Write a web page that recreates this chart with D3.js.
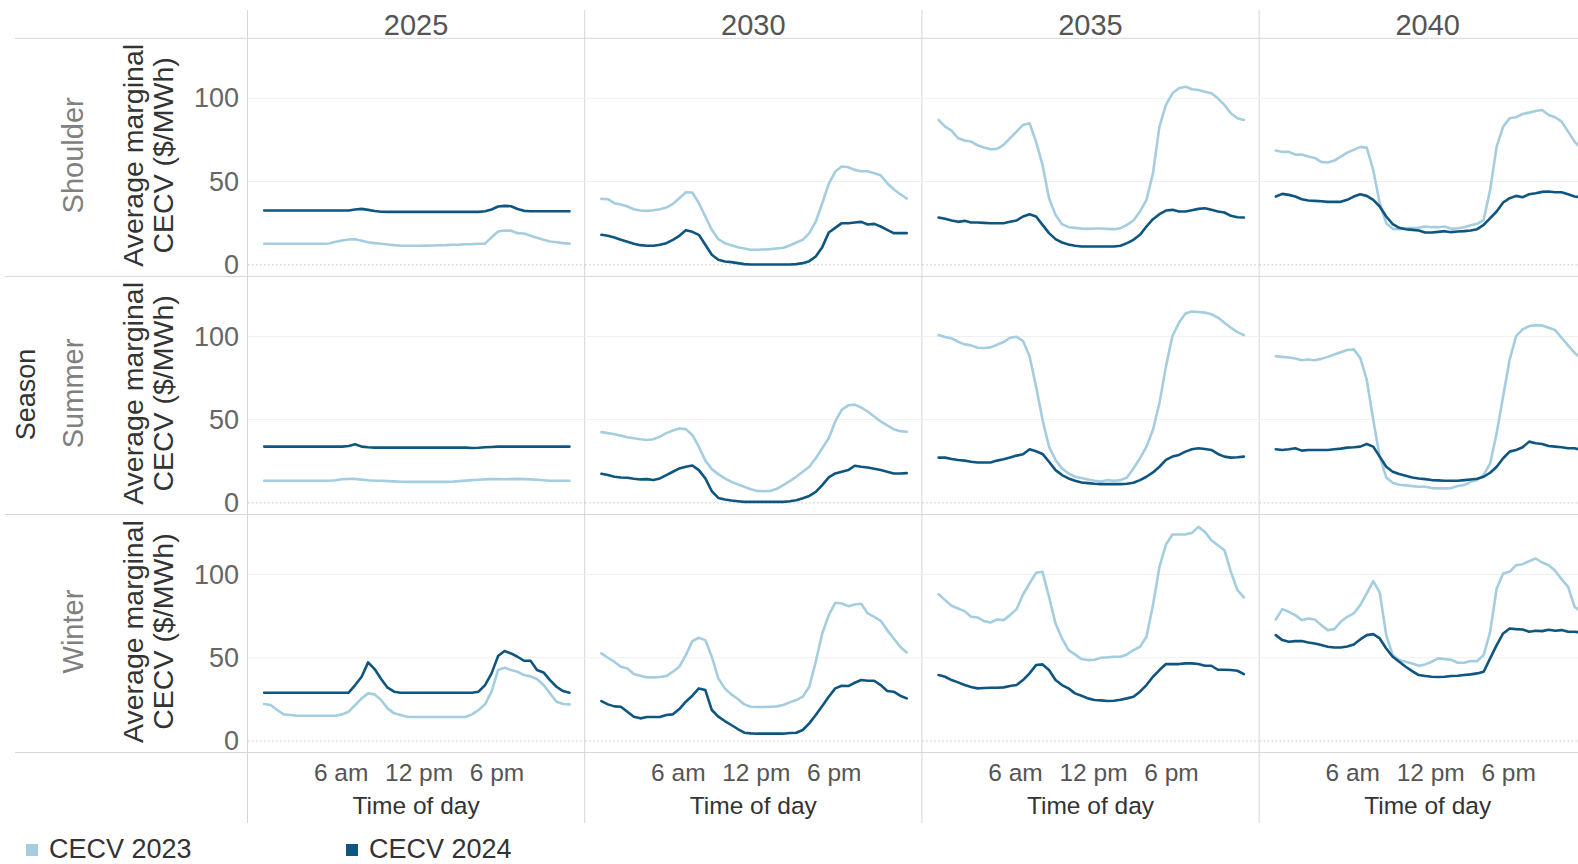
<!DOCTYPE html>
<html>
<head>
<meta charset="utf-8">
<script src="https://cdn.jsdelivr.net/npm/d3@7"></script>
<style>
  html, body { margin: 0; padding: 0; background: #ffffff; }
  svg { display: block; font-family: Arial, "Liberation Sans", sans-serif; }
</style>
</head>
<body>
<svg id="chart" width="1578" height="864"></svg>
<script>
// ---------------- DATA ----------------
const years = ["2025", "2030", "2035", "2040"];
const seasons = ["Shoulder", "Summer", "Winter"];
const seriesNames = ["CECV 2023", "CECV 2024"];
const yTicks = [0, 50, 100];
const xTicks = [6, 12, 18];
const xTickLabels = ["6 am", "12 pm", "6 pm"];
const hours = [0,0.5,1,1.5,2,2.5,3,3.5,4,4.5,5,5.5,6,6.5,7,7.5,8,8.5,9,9.5,10,10.5,11,11.5,
               12,12.5,13,13.5,14,14.5,15,15.5,16,16.5,17,17.5,18,18.5,19,19.5,20,20.5,21,21.5,22,22.5,23,23.5];

// Shoulder
const shoulder2025_cecv2023 = [12.6,12.6,12.6,12.6,12.6,12.6,12.6,12.6,12.6,12.6,12.8,13.8,14.6,15.2,15.4,14.5,13.5,13.0,12.6,12.2,11.8,11.5,11.4,11.4,
  11.4,11.5,11.6,11.7,11.8,12.0,12.1,12.3,12.4,12.6,12.7,16.5,20.0,20.6,20.5,19.0,18.8,17.5,16.2,15.0,14.0,13.5,13.0,12.7];
const shoulder2025_cecv2024 = [32.6,32.6,32.6,32.6,32.6,32.6,32.6,32.6,32.6,32.6,32.6,32.6,32.6,32.6,33.2,33.6,33.0,32.3,31.9,31.8,31.8,31.8,31.8,31.8,
  31.8,31.8,31.8,31.8,31.8,31.8,31.8,31.8,31.8,31.8,32.2,33.2,35.0,35.4,35.2,33.5,32.4,32.2,32.2,32.2,32.2,32.2,32.2,32.2];
const shoulder2030_cecv2023 = [39.6,39.4,37.0,36.2,35.0,33.4,32.6,32.4,32.8,33.4,34.4,36.6,40.0,43.6,43.4,37.0,29.0,21.0,15.4,13.0,11.8,10.6,9.8,9.0,
  9.0,9.2,9.4,9.8,10.2,11.6,13.4,15.0,19.0,26.0,37.0,48.6,56.0,59.0,58.6,57.0,56.2,56.2,55.0,53.8,49.0,45.4,42.4,39.8];
const shoulder2030_cecv2024 = [18.0,17.4,16.4,15.0,13.8,12.6,11.8,11.4,11.4,12.0,13.0,15.0,17.4,20.8,19.8,18.0,12.0,6.0,3.0,2.0,1.6,1.0,0.4,0.2,
  0.2,0.2,0.2,0.2,0.2,0.2,0.4,1.0,2.2,5.0,10.6,19.4,22.2,25.0,25.0,25.4,25.8,24.2,24.6,23.0,21.0,19.0,19.0,19.0];
const shoulder2035_cecv2023 = [87.0,83.0,80.6,76.0,74.6,74.0,71.8,70.4,69.4,69.6,72.0,76.0,80.0,84.0,85.0,74.0,60.0,40.0,30.0,24.4,22.6,22.2,21.8,21.6,
  21.8,21.8,21.6,21.4,22.0,24.0,26.6,32.0,39.0,55.0,83.0,96.0,103.0,106.0,107.0,105.4,105.0,104.0,103.0,100.0,96.0,91.0,88.0,87.0];
const shoulder2035_cecv2024 = [28.4,27.6,26.6,25.8,26.4,25.4,25.4,25.2,25.0,25.0,25.0,25.8,26.6,29.0,30.4,29.0,24.0,19.0,15.4,13.4,12.2,11.4,11.0,11.0,
  11.0,11.0,11.0,11.0,11.4,13.0,15.0,18.0,23.0,27.4,30.4,32.6,33.0,32.0,32.0,32.8,33.6,34.0,33.0,32.0,31.4,29.4,28.6,28.4];
const shoulder2040_cecv2023 = [68.6,67.8,67.8,66.2,66.2,65.0,64.2,61.8,61.4,62.6,65.0,67.4,69.0,70.8,70.4,57.0,37.0,25.0,21.6,21.4,22.0,22.0,22.2,23.0,
  22.6,22.6,23.0,21.6,22.0,22.6,23.8,24.6,27.0,45.0,71.0,83.0,88.0,88.6,90.6,91.4,92.4,93.0,90.0,88.6,86.0,80.0,74.0,70.0];
const shoulder2040_cecv2024 = [41.0,42.6,42.0,41.0,39.4,38.6,38.4,38.2,37.8,37.8,37.8,39.0,41.0,42.4,41.4,39.0,35.0,29.0,24.4,22.2,21.4,21.0,20.6,19.4,
  19.4,19.8,20.2,19.6,20.0,20.2,20.6,21.4,24.0,28.0,32.0,37.4,40.0,41.4,40.6,42.4,43.0,43.8,44.0,43.6,43.6,42.4,41.0,40.6];

// Summer
const summer2025_cecv2023 = [13.3,13.3,13.3,13.3,13.3,13.3,13.3,13.3,13.3,13.3,13.3,13.6,14.2,14.4,14.4,14.0,13.6,13.4,13.3,13.1,12.9,12.7,12.6,12.6,
  12.6,12.6,12.6,12.6,12.6,12.8,13.1,13.4,13.7,13.9,14.1,14.3,14.3,14.2,14.3,14.4,14.3,14.1,13.9,13.6,13.3,13.3,13.3,13.3];
const summer2025_cecv2024 = [33.8,33.8,33.8,33.8,33.8,33.8,33.8,33.8,33.8,33.8,33.8,33.8,33.8,34.2,35.2,33.8,33.4,33.2,33.2,33.2,33.2,33.2,33.2,33.2,
  33.2,33.2,33.2,33.2,33.2,33.2,33.2,33.2,33.0,33.1,33.4,33.6,33.8,33.8,33.8,33.8,33.8,33.8,33.8,33.8,33.8,33.8,33.8,33.8];
const summer2030_cecv2023 = [42.5,41.9,41.2,40.4,39.4,38.8,38.2,37.8,38.2,39.8,41.9,43.5,44.7,44.3,40.8,33.8,25.4,20.3,17.3,14.7,12.7,11.1,9.7,8.2,
  7.2,7.0,7.2,8.5,10.7,13.1,15.7,18.7,21.7,26.8,32.8,38.8,48.9,55.9,58.6,59.0,57.3,54.9,51.9,48.9,46.5,44.3,43.1,42.7];
const summer2030_cecv2024 = [17.5,16.7,15.7,15.3,15.1,14.5,14.1,14.3,13.7,14.7,16.7,18.7,20.7,21.7,22.5,19.7,14.7,7.0,3.0,2.0,1.4,1.0,0.6,0.6,
  0.6,0.6,0.6,0.6,0.6,1.0,1.6,2.8,4.2,6.6,10.7,15.3,17.7,18.7,19.7,22.3,21.7,21.3,20.5,19.7,18.7,17.7,17.7,17.9];
const summer2035_cecv2023 = [100.8,99.6,98.8,96.8,95.2,94.6,93.2,93.0,93.4,95.0,96.6,99.2,99.8,97.2,88.1,70.0,49.9,33.8,25.8,20.7,17.7,15.7,14.9,14.1,
  13.3,12.9,13.7,13.3,13.7,15.3,20.7,26.8,33.8,43.9,60.0,82.0,100.2,108.2,113.7,114.9,114.7,114.3,113.3,111.3,108.2,105.2,102.6,100.8];
const summer2035_cecv2024 = [27.2,27.2,26.4,25.8,25.4,24.7,24.3,24.3,24.3,25.4,26.2,27.2,28.4,29.2,32.2,31.0,29.4,24.7,19.7,16.7,14.7,13.3,12.3,11.9,
  11.5,11.3,11.3,11.3,11.3,11.5,12.1,13.7,15.7,18.3,21.7,25.8,27.8,28.8,30.8,32.2,32.8,32.4,31.8,29.4,27.8,27.2,27.4,27.8];
const summer2040_cecv2023 = [88.1,87.7,87.3,86.7,85.7,86.1,85.7,86.5,87.7,89.1,90.5,91.8,92.2,87.1,74.0,49.9,27.8,15.3,12.1,10.9,10.5,10.1,9.7,9.7,
  8.9,8.7,8.7,8.9,10.1,10.7,12.7,13.7,16.7,23.7,41.9,64.0,86.1,100.2,104.2,106.2,106.6,106.6,105.2,103.8,99.2,94.6,90.1,87.0];
const summer2040_cecv2024 = [32.2,31.8,32.2,32.8,31.4,31.8,31.8,31.8,31.8,32.2,32.6,33.2,33.4,33.8,35.4,33.8,27.8,21.7,18.7,17.3,16.3,15.3,14.7,14.3,
  13.7,13.5,13.3,13.3,13.3,13.7,14.1,14.5,15.7,18.1,21.7,26.8,30.8,31.8,33.4,36.8,35.8,35.4,34.2,33.8,33.4,32.8,32.8,31.8];

// Winter
const winter2025_cecv2023 = [22.2,21.6,18.6,16.0,15.6,15.2,15.2,15.2,15.2,15.2,15.2,15.2,16.0,17.6,21.6,25.6,28.6,28.0,24.6,19.6,16.6,15.6,14.6,14.4,
  14.4,14.4,14.4,14.4,14.4,14.4,14.4,14.4,16.0,18.6,22.0,29.6,42.6,44.0,42.6,41.6,39.6,38.8,37.2,33.6,28.6,23.6,22.2,22.0];
const winter2025_cecv2024 = [29.0,29.0,29.0,29.0,29.0,29.0,29.0,29.0,29.0,29.0,29.0,29.0,29.0,29.0,33.6,38.6,47.2,43.2,37.2,32.0,29.6,29.0,29.0,29.0,
  29.0,29.0,29.0,29.0,29.0,29.0,29.0,29.0,29.0,29.6,33.6,40.6,51.0,54.0,52.6,50.6,48.2,48.2,42.6,41.2,36.6,32.6,30.0,29.0];
const winter2030_cecv2023 = [52.6,50.0,47.6,44.6,43.6,40.2,39.2,38.2,38.2,38.4,39.0,41.6,44.6,51.6,60.0,62.0,60.6,50.6,37.6,31.6,28.0,25.2,22.0,20.6,
  20.4,20.4,20.6,20.8,21.6,23.2,24.6,26.6,32.6,47.6,64.6,75.6,83.0,82.6,81.0,82.0,82.4,76.6,74.6,72.2,66.6,61.6,56.6,53.2];
const winter2030_cecv2024 = [24.0,22.0,20.8,20.6,17.6,14.6,13.6,14.4,14.4,14.4,15.6,16.0,19.2,23.6,27.2,31.6,30.6,18.6,14.6,12.0,9.6,7.2,5.0,4.6,
  4.4,4.4,4.4,4.4,4.4,4.8,5.0,6.6,10.6,15.6,21.0,26.6,31.6,33.2,33.0,35.0,36.6,36.2,36.2,33.6,30.0,29.6,27.2,25.6];
const winter2035_cecv2023 = [88.2,84.6,81.2,79.6,78.0,74.6,74.2,72.0,71.2,73.0,72.6,75.6,79.2,88.0,94.6,101.0,101.6,86.6,70.6,61.6,54.6,52.0,49.2,48.6,
  48.8,50.0,50.2,50.6,50.6,52.0,54.6,56.6,62.6,81.6,104.6,118.0,124.0,124.0,124.0,125.0,128.6,125.6,120.6,117.6,114.6,101.6,90.6,86.2];
const winter2035_cecv2024 = [39.6,38.6,36.6,35.2,33.6,32.4,31.6,31.8,32.0,32.0,32.2,33.0,33.6,36.6,40.6,45.6,46.0,42.6,36.6,33.6,31.6,28.6,27.2,25.6,
  24.6,24.4,24.0,24.2,24.8,25.6,26.6,29.6,33.6,38.6,42.6,46.2,46.2,46.2,46.6,46.6,46.2,45.2,45.2,42.8,42.8,42.6,42.2,40.2];
const winter2040_cecv2023 = [73.0,79.2,77.6,75.6,72.6,73.6,73.0,69.6,66.6,67.2,71.6,74.6,76.6,81.6,88.6,96.0,89.2,63.6,51.6,48.6,47.6,46.6,45.2,46.0,
  47.6,49.6,49.2,48.8,47.0,47.0,48.0,48.0,51.6,65.6,91.6,100.6,101.6,105.6,106.2,108.0,109.6,107.2,105.6,102.2,97.2,92.6,80.6,77.6];
const winter2040_cecv2024 = [63.6,60.6,59.6,60.0,60.0,59.2,58.6,57.6,56.6,56.2,56.2,56.8,58.0,61.0,63.6,64.2,61.6,55.6,50.6,47.6,44.6,42.0,39.6,39.0,
  38.6,38.4,38.6,39.0,39.2,39.6,40.0,40.6,41.6,49.6,57.6,64.6,67.6,67.2,67.0,65.6,66.2,66.0,66.8,66.2,66.6,65.6,65.6,65.2];

const dataBySeason = {
  Shoulder: [[shoulder2025_cecv2023, shoulder2025_cecv2024],[shoulder2030_cecv2023, shoulder2030_cecv2024],
             [shoulder2035_cecv2023, shoulder2035_cecv2024],[shoulder2040_cecv2023, shoulder2040_cecv2024]],
  Summer:   [[summer2025_cecv2023, summer2025_cecv2024],[summer2030_cecv2023, summer2030_cecv2024],
             [summer2035_cecv2023, summer2035_cecv2024],[summer2040_cecv2023, summer2040_cecv2024]],
  Winter:   [[winter2025_cecv2023, winter2025_cecv2024],[winter2030_cecv2023, winter2030_cecv2024],
             [winter2035_cecv2023, winter2035_cecv2024],[winter2040_cecv2023, winter2040_cecv2024]]
};

// ---------------- LAYOUT ----------------
const colors = ["#a5cde0", "#0e5580"];
const svg = d3.select("#chart");
const colLeft0 = 247.5, colW = 337.2;
const rowTop0 = 38.3, rowH = 238.1;
const gridColor = "#d6d6d6";

const colLeft = i => colLeft0 + i * colW;
const rowTop = j => rowTop0 + j * rowH;

// x scale (relative to column left)
const x = d3.scaleLinear().domain([0, 23.5]).range([16.7, 322]);

// Structure lines
const lines = svg.append("g");
lines.append("line").attr("x1", 15).attr("x2", 1578).attr("y1", rowTop(0)).attr("y2", rowTop(0))
  .attr("stroke", gridColor).attr("stroke-width", 1);
lines.append("line").attr("x1", 15).attr("x2", 1578).attr("y1", rowTop(3)).attr("y2", rowTop(3))
  .attr("stroke", gridColor).attr("stroke-width", 1);
[1, 2].forEach(j => {
  lines.append("line").attr("x1", 5).attr("x2", 1578).attr("y1", rowTop(j)).attr("y2", rowTop(j))
    .attr("stroke", gridColor).attr("stroke-width", 1);
});
years.forEach((yr, i) => {
  lines.append("line").attr("x1", colLeft(i)).attr("x2", colLeft(i)).attr("y1", 10).attr("y2", 823)
    .attr("stroke", gridColor).attr("stroke-width", 1);
});

// Column headers
years.forEach((yr, i) => {
  svg.append("text").attr("x", colLeft(i) + colW / 2).attr("y", 34.5)
    .attr("text-anchor", "middle").attr("font-size", 29).attr("fill", "#555")
    .text(yr);
});

// "Season" label
svg.append("text").attr("transform", `translate(35, ${rowTop(1) + rowH / 2 - 1}) rotate(-90)`)
  .attr("text-anchor", "middle").attr("font-size", 27).attr("fill", "#333").text("Season");

const line = d3.line().x(d => d.x).y(d => d.y);

seasons.forEach((season, j) => {
  const top = rowTop(j);
  const y = d3.scaleLinear().domain([0, 100]).range([top + 226.5, top + 60]);
  const mid = top + rowH / 2 - 2;

  // row label
  svg.append("text").attr("transform", `translate(83, ${mid}) rotate(-90)`)
    .attr("text-anchor", "middle").attr("font-size", 29).attr("fill", "#808080").text(season);
  // axis title (two lines)
  const t = svg.append("text").attr("transform", `translate(143, ${mid}) rotate(-90)`)
    .attr("text-anchor", "middle").attr("font-size", 28.5).attr("fill", "#333");
  t.append("tspan").attr("x", 0).attr("dy", 0).text("Average marginal");
  t.append("tspan").attr("x", 0).attr("dy", 30).text("CECV ($/MWh)");

  // y tick labels
  const yAxis = d3.axisLeft(y).tickValues(yTicks).tickSize(0).tickPadding(0);
  const ga = svg.append("g").attr("transform", `translate(239,0)`).call(yAxis);
  ga.select(".domain").remove();
  ga.selectAll("text").attr("font-size", 27).attr("fill", "#666")
    .attr("font-family", "Arial, 'Liberation Sans', sans-serif");

  years.forEach((yr, i) => {
    const gx = colLeft(i);
    const g = svg.append("g").attr("transform", `translate(${gx},0)`);
    [50, 100].forEach(v => {
      g.append("line").attr("x1", 0.5).attr("x2", colW).attr("y1", y(v)).attr("y2", y(v))
        .attr("stroke", "#efefef").attr("stroke-width", 1);
    });
    g.append("line").attr("x1", 0.5).attr("x2", colW).attr("y1", y(0)).attr("y2", y(0))
      .attr("stroke", "#c4c4c4").attr("stroke-width", 1).attr("stroke-dasharray", "1.5,2.5");

    const pair = dataBySeason[season][i];
    pair.forEach((vals, s) => {
      const pts = vals.map((v, k) => ({ x: x(hours[k]), y: y(v) }));
      g.append("path").attr("d", line(pts)).attr("fill", "none")
        .attr("stroke", colors[s]).attr("stroke-width", 2.6)
        .attr("stroke-linejoin", "round").attr("stroke-linecap", "round");
    });
  });
});

// x axis labels
years.forEach((yr, i) => {
  const g = svg.append("g").attr("transform", `translate(${colLeft(i)}, 772.5)`);
  xTicks.forEach((h, k) => {
    g.append("text").attr("x", x(h) - 1).attr("y", 0).attr("dy", "0.35em")
      .attr("text-anchor", "middle").attr("font-size", 24.5).attr("fill", "#555")
      .text(xTickLabels[k]);
  });
  g.append("text").attr("x", colW / 2).attr("y", 33).attr("dy", "0.35em")
    .attr("text-anchor", "middle").attr("font-size", 24.5).attr("fill", "#333")
    .text("Time of day");
});

// legend
const legendX = [26, 346];
seriesNames.forEach((name, s) => {
  svg.append("rect").attr("x", legendX[s]).attr("y", 844).attr("width", 12).attr("height", 12)
    .attr("fill", colors[s]);
  svg.append("text").attr("x", legendX[s] + 23).attr("y", 857.5)
    .attr("font-size", 27).attr("fill", "#333").text(name);
});
</script>
</body>
</html>
